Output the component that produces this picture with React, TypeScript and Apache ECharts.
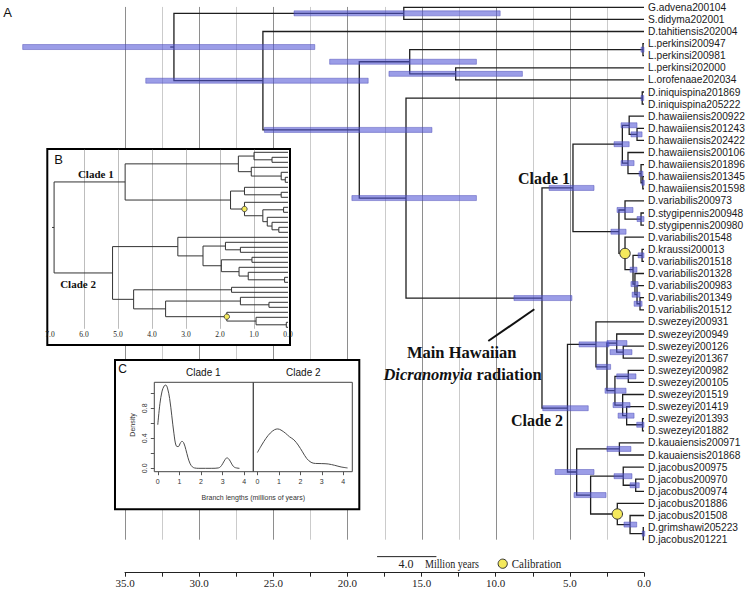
import React, { useEffect, useRef } from 'react';
import * as echarts from 'echarts';

// ---------- DATA ----------
const tipNames = [
  'G.advena200104', 'S.didyma202001', 'D.tahitiensis202004', 'L.perkinsi200947', 'L.perkinsi200981',
  'L.perkinsi202000', 'L.orofenaae202034', 'D.iniquispina201869', 'D.iniquispina205222',
  'D.hawaiiensis200922', 'D.hawaiiensis201243', 'D.hawaiiensis202422', 'D.hawaiiensis200106',
  'D.hawaiiensis201896', 'D.hawaiiensis201345', 'D.hawaiiensis201598', 'D.variabilis200973',
  'D.stygipennis200948', 'D.stygipennis200980', 'D.variabilis201548', 'D.kraussi200013',
  'D.variabilis201518', 'D.variabilis201328', 'D.variabilis200983', 'D.variabilis201349',
  'D.variabilis201512', 'D.swezeyi200931', 'D.swezeyi200949', 'D.swezeyi200126', 'D.swezeyi201367',
  'D.swezeyi200982', 'D.swezeyi200105', 'D.swezeyi201519', 'D.swezeyi201419', 'D.swezeyi201393',
  'D.swezeyi201882', 'D.kauaiensis200971', 'D.kauaiensis201868', 'D.jacobus200975', 'D.jacobus200970',
  'D.jacobus200974', 'D.jacobus201886', 'D.jacobus201508', 'D.grimshawi205223', 'D.jacobus201221',
];

const nodeNames = [
  'root', 'GS', 'N2', 'Q', 'P', 'LP1', 'LP2', 'I', 'INI', 'M', 'C1', 'H', 'Ha', 'Hb', 'Hc', 'Hd', 'He',
  'V', 'Va', 'Vs', 'Vb', 'Vc', 'Vk', 'Vd', 'Ve', 'Vf', 'C2', 'S', 'Sa', 'Sb', 'Sb2', 'Sc', 'Sd', 'Sf',
  'Sg', 'Sh', 'K', 'Ka', 'J', 'Ja', 'Jc', 'Jb', 'Jd', 'Je',
];

const nodeKids: string[][] = [
  ['GS', 'N2'],
  ['G.advena200104', 'S.didyma202001'],
  ['D.tahitiensis202004', 'Q'],
  ['P', 'I'],
  ['LP1', 'LP2'],
  ['L.perkinsi200947', 'L.perkinsi200981'],
  ['L.perkinsi202000', 'L.orofenaae202034'],
  ['INI', 'M'],
  ['D.iniquispina201869', 'D.iniquispina205222'],
  ['C1', 'C2'],
  ['H', 'V'],
  ['Ha', 'Hc'],
  ['D.hawaiiensis200922', 'Hb'],
  ['D.hawaiiensis201243', 'D.hawaiiensis202422'],
  ['D.hawaiiensis200106', 'Hd'],
  ['D.hawaiiensis201896', 'He'],
  ['D.hawaiiensis201345', 'D.hawaiiensis201598'],
  ['Va', 'Vb'],
  ['D.variabilis200973', 'Vs'],
  ['D.stygipennis200948', 'D.stygipennis200980'],
  ['D.variabilis201548', 'Vc'],
  ['Vk', 'Vd'],
  ['D.kraussi200013', 'D.variabilis201518'],
  ['D.variabilis201328', 'Ve'],
  ['D.variabilis200983', 'Vf'],
  ['D.variabilis201349', 'D.variabilis201512'],
  ['S', 'K'],
  ['D.swezeyi200931', 'Sa'],
  ['Sb', 'Sc'],
  ['D.swezeyi200949', 'Sb2'],
  ['D.swezeyi200126', 'D.swezeyi201367'],
  ['Sd', 'Sf'],
  ['D.swezeyi200982', 'D.swezeyi200105'],
  ['D.swezeyi201519', 'Sg'],
  ['D.swezeyi201419', 'Sh'],
  ['D.swezeyi201393', 'D.swezeyi201882'],
  ['Ka', 'J'],
  ['D.kauaiensis200971', 'D.kauaiensis201868'],
  ['Ja', 'Jb'],
  ['D.jacobus200975', 'Jc'],
  ['D.jacobus200970', 'D.jacobus200974'],
  ['D.jacobus201886', 'Jd'],
  ['D.jacobus201508', 'Je'],
  ['D.grimshawi205223', 'D.jacobus201221'],
];

// node ages (million years)
const nodeAges = [
  31.7, 16.2, 25.7, 19.2, 15.8, 0.07, 12.7, 16.05, 0.12, 6.88, 4.79, 1.46, 1.0, 0.47, 1.08, 0.2, 0.08,
  1.69, 1.28, 0.2, 1.28, 0.74, 0.13, 0.61, 0.47, 0.27, 5.16, 3.24, 2.5, 1.84, 1.4, 1.96, 1.06, 1.44,
  1.17, 0.1, 4.54, 1.66, 3.6, 1.4, 0.56, 1.8, 0.94, 0.05,
];
// 95% HPD intervals (older / younger bounds), NaN = calibrated node
const hpdOld = [
  41.9, 23.6, 33.6, 25.6, 21.2, 0.2, 17.2, 19.7, 0.2, 8.77, 6.4, 2.02, 1.55, 0.88, 1.55, 0.33, 0.15,
  2.23, 1.82, 0.47, NaN, 0.94, 0.4, 0.88, 0.8, 0.67, 6.83, 4.38, 3.19, 2.5, 2.29, 2.63, 1.84, 2.09,
  1.75, 0.49, 6.0, 2.5, 4.72, 2.02, 0.94, NaN, 1.35, 0.12,
];
const hpdYoung = [
  22.2, 9.7, 18.6, 14.3, 11.3, 0.0, 8.2, 11.3, 0.02, 4.86, 3.37, 1.0, 0.47, 0.13, 0.67, 0.07, 0.0,
  1.21, 0.74, 0.0, NaN, 0.47, 0.0, 0.4, 0.27, 0.13, 3.76, 2.36, 2.25, 1.15, 0.81, 1.21, 0.54, 0.94,
  0.67, 0.0, 3.37, 0.88, 2.56, 0.81, 0.32, NaN, 0.49, 0.0,
];
const calibratedNodes = ['Vb', 'Jb'];

const timeTicks = [2.5, 5, 7.5, 10, 12.5, 15, 17.5, 20, 22.5, 25, 27.5, 30, 32.5, 35];
const insetTicks = [1, 2, 3, 4, 5, 6];
const insetRoot = 'M';
const scaleBarAges = [18, 14];

// Density of branch lengths (inset C)
const densX1 = [0, 0.1, 0.2, 0.3, 0.37, 0.45, 0.55, 0.65, 0.75, 0.85, 0.95, 1.05, 1.12, 1.2, 1.3, 1.4, 1.5, 1.6, 1.7, 1.9, 2.2, 2.5, 2.8, 2.9, 3.0, 3.1, 3.2, 3.3, 3.4, 3.5, 3.6, 3.78];
const densY1 = [0.58, 0.86, 1.03, 1.10, 1.11, 1.07, 0.93, 0.70, 0.46, 0.30, 0.29, 0.34, 0.36, 0.34, 0.25, 0.14, 0.06, 0.02, 0.005, 0, 0, 0, 0.005, 0.02, 0.06, 0.11, 0.14, 0.12, 0.07, 0.025, 0.008, 0];
const densX2 = [0, 0.2, 0.4, 0.6, 0.8, 0.95, 1.1, 1.3, 1.5, 1.7, 1.9, 2.1, 2.3, 2.5, 2.7, 3.0, 3.3, 3.6, 3.9, 4.2];
const densY2 = [0.21, 0.31, 0.40, 0.47, 0.515, 0.525, 0.51, 0.47, 0.42, 0.38, 0.31, 0.22, 0.13, 0.08, 0.065, 0.063, 0.058, 0.04, 0.018, 0.005];
const densTicksX = [0, 1, 2, 3, 4];
const densTicksY = [0, 0.2, 0.4, 0.6, 0.8, 1.0];
const densLabelsY = [0, 0.4, 0.8];

// ---------- TREE HELPERS ----------
const nodeIndex = new Map<string, number>(nodeNames.map((n, i) => [n, i]));
const tipIndex = new Map<string, number>(tipNames.map((n, i) => [n, i]));

function rowOf(n: string): number {
  if (tipIndex.has(n)) return tipIndex.get(n) as number;
  const k = nodeKids[nodeIndex.get(n) as number];
  return (rowOf(k[0]) + rowOf(k[1])) / 2;
}
function ageOf(n: string): number {
  return tipIndex.has(n) ? 0 : nodeAges[nodeIndex.get(n) as number];
}
function subtreeNodes(root: string): string[] {
  const out: string[] = [];
  const walk = (n: string) => {
    if (tipIndex.has(n)) return;
    out.push(n);
    nodeKids[nodeIndex.get(n) as number].forEach(walk);
  };
  walk(root);
  return out;
}
function subtreeMinTip(root: string): number {
  let m = Infinity;
  const walk = (n: string) => {
    if (tipIndex.has(n)) { m = Math.min(m, tipIndex.get(n) as number); return; }
    nodeKids[nodeIndex.get(n) as number].forEach(walk);
  };
  walk(root);
  return m;
}
function brackets(root: string, shift: number) {
  return subtreeNodes(root).map((n) => {
    const [a, b] = nodeKids[nodeIndex.get(n) as number];
    return [ageOf(n), rowOf(a) - shift, ageOf(a), rowOf(b) - shift, ageOf(b)];
  });
}

const SANS = 'Liberation Sans, Arial, sans-serif';
const SERIF = 'Liberation Serif, Times New Roman, serif';

function bracketRender(color: string, width: number) {
  return (_p: any, api: any) => {
    const a = api.value(0), y1 = api.value(1), c1 = api.value(2), y2 = api.value(3), c2 = api.value(4);
    const pts = [api.coord([c1, y1]), api.coord([a, y1]), api.coord([a, y2]), api.coord([c2, y2])];
    return { type: 'polyline', shape: { points: pts }, style: { stroke: color, lineWidth: width, fill: 'none' } };
  };
}

const centered = { align: 'center', verticalAlign: 'middle', textAlign: 'center', textVerticalAlign: 'middle' };
const lefted = { align: 'left', verticalAlign: 'middle', textAlign: 'left', textVerticalAlign: 'middle' };

function buildOption() {
  const mainBrackets = brackets('root', 0);
  const rootRow = rowOf('root');
  const rootAge = ageOf('root');
  const bars = nodeNames
    .map((n, i) => [hpdOld[i], hpdYoung[i], rowOf(n)])
    .filter((d) => isFinite(d[0]));
  const circles = calibratedNodes.map((n) => [ageOf(n), rowOf(n)]);

  const shift = subtreeMinTip(insetRoot);
  const insetBrackets = brackets(insetRoot, shift);
  const insetCircles = calibratedNodes.map((n) => [ageOf(n), rowOf(n) - shift]);
  const insetRootRow = rowOf(insetRoot) - shift;
  const insetRootAge = ageOf(insetRoot);

  const series: any[] = [
    // main vertical time grid
    {
      type: 'custom', xAxisIndex: 0, yAxisIndex: 0, z: 1, silent: true,
      data: timeTicks.map((v) => [v, 0]),
      renderItem: (_p: any, api: any) => {
        const v = api.value(0);
        const a = api.coord([v, -0.03]);
        const b = api.coord([v, 44]);
        const x = Math.round(a[0]) + 0.5;
        return { type: 'line', shape: { x1: x, y1: a[1], x2: x, y2: b[1] }, style: { stroke: v % 5 === 0 ? '#8e8e8e' : '#cbcbcb', lineWidth: 1 } };
      },
    },
    // main tree branches
    {
      type: 'custom', xAxisIndex: 0, yAxisIndex: 0, z: 2, silent: true,
      data: mainBrackets, renderItem: bracketRender('#1e1e1e', 1.3),
    },
    // root stem
    {
      type: 'custom', xAxisIndex: 0, yAxisIndex: 0, z: 2, silent: true,
      data: [[rootAge + 0.25, rootRow, rootAge]],
      renderItem: (_p: any, api: any) => {
        const a = api.coord([api.value(0), api.value(1)]);
        const b = api.coord([api.value(2), api.value(1)]);
        return { type: 'line', shape: { x1: a[0], y1: a[1], x2: b[0], y2: b[1] }, style: { stroke: '#1e1e1e', lineWidth: 1.3 } };
      },
    },
    // HPD bars
    {
      type: 'custom', xAxisIndex: 0, yAxisIndex: 0, z: 3, silent: true,
      data: bars,
      renderItem: (_p: any, api: any) => {
        const a = api.coord([api.value(0), api.value(2)]);
        const b = api.coord([api.value(1), api.value(2)]);
        return {
          type: 'rect',
          shape: { x: a[0], y: a[1] - 2.5, width: Math.max(b[0] - a[0], 2.5), height: 5 },
          style: { fill: 'rgba(82,86,214,0.58)', stroke: 'rgba(70,70,180,0.75)', lineWidth: 0.6 },
        };
      },
    },
    // calibration circles
    {
      type: 'custom', xAxisIndex: 0, yAxisIndex: 0, z: 4, silent: true,
      data: circles,
      renderItem: (_p: any, api: any) => {
        const c = api.coord([api.value(0), api.value(1)]);
        return { type: 'circle', shape: { cx: c[0], cy: c[1], r: 5.2 }, style: { fill: '#f4e95c', stroke: '#333', lineWidth: 1 } };
      },
    },
    // tip labels
    {
      type: 'custom', xAxisIndex: 0, yAxisIndex: 0, z: 4, silent: true,
      data: tipNames.map((_n, i) => [0, i]),
      renderItem: (p: any, api: any) => {
        const c = api.coord([api.value(0), api.value(1)]);
        return {
          type: 'text', x: c[0] + 4, y: c[1],
          style: { text: tipNames[p.dataIndex], fontFamily: SANS, fontSize: 10.2, fill: '#1a1a1a', ...lefted },
        };
      },
    },
    // scale bar
    {
      type: 'custom', xAxisIndex: 0, yAxisIndex: 0, z: 4, silent: true,
      data: [[scaleBarAges[0], 45.4, scaleBarAges[1]]],
      renderItem: (_p: any, api: any) => {
        const a = api.coord([api.value(0), api.value(1)]);
        const b = api.coord([api.value(2), api.value(1)]);
        return { type: 'line', shape: { x1: a[0], y1: a[1], x2: b[0], y2: b[1] }, style: { stroke: '#222', lineWidth: 1 } };
      },
    },
    // ---- inset B ----
    {
      type: 'custom', xAxisIndex: 1, yAxisIndex: 1, z: 11, silent: true,
      data: insetTicks.map((v) => [v, 0]),
      renderItem: (_p: any, api: any) => {
        const v = api.value(0);
        const a = api.coord([v, -0.5]);
        const b = api.coord([v, 35.3]);
        const x = Math.round(a[0]) + 0.5;
        return { type: 'line', shape: { x1: x, y1: a[1], x2: x, y2: b[1] }, style: { stroke: '#bdbdbd', lineWidth: 1 } };
      },
    },
    {
      type: 'custom', xAxisIndex: 1, yAxisIndex: 1, z: 12, silent: true,
      data: insetBrackets, renderItem: bracketRender('#333', 1),
    },
    {
      type: 'custom', xAxisIndex: 1, yAxisIndex: 1, z: 12, silent: true,
      data: [[insetRootAge + 0.06, insetRootRow, insetRootAge]],
      renderItem: (_p: any, api: any) => {
        const a = api.coord([api.value(0), api.value(1)]);
        const b = api.coord([api.value(2), api.value(1)]);
        return { type: 'line', shape: { x1: a[0], y1: a[1], x2: b[0], y2: b[1] }, style: { stroke: '#333', lineWidth: 1 } };
      },
    },
    {
      type: 'custom', xAxisIndex: 1, yAxisIndex: 1, z: 13, silent: true,
      data: insetCircles,
      renderItem: (_p: any, api: any) => {
        const c = api.coord([api.value(0), api.value(1)]);
        return { type: 'circle', shape: { cx: c[0], cy: c[1], r: 2.7 }, style: { fill: '#f4e95c', stroke: '#333', lineWidth: 0.8 } };
      },
    },
    // ---- inset C ----
    {
      type: 'line', xAxisIndex: 2, yAxisIndex: 2, z: 12, silent: true, showSymbol: false, smooth: 0.35,
      data: densX1.map((x, i) => [x, densY1[i]]),
      lineStyle: { color: '#4a4a4a', width: 1 },
    },
    {
      type: 'line', xAxisIndex: 3, yAxisIndex: 3, z: 12, silent: true, showSymbol: false, smooth: 0.35,
      data: densX2.map((x, i) => [x, densY2[i]]),
      lineStyle: { color: '#4a4a4a', width: 1 },
    },
  ];

  const cAxisX = (min: number) => ({
    type: 'value', min, max: 4.42, z: 11,
    axisLine: { show: false, onZero: false },
    axisTick: { show: true, customValues: densTicksX, length: 3.5, lineStyle: { color: '#555' } },
    axisLabel: { customValues: densTicksX, fontFamily: SANS, fontSize: 7, color: '#333', margin: 6 },
    splitLine: { show: false },
  });

  return {
    animation: false,
    backgroundColor: '#ffffff',
    grid: [
      { left: 125, top: 7.3, width: 519, height: 532.4, outerBoundsMode: 'none', containLabel: false },
      { left: 50, top: 149, width: 238, height: 180, outerBoundsMode: 'none', containLabel: false },
      { left: 154.3, top: 382.3, width: 99, height: 89.4, show: true, borderColor: '#444', borderWidth: 1, backgroundColor: 'transparent', z: 11, outerBoundsMode: 'none', containLabel: false },
      { left: 253.3, top: 382.3, width: 99, height: 89.4, show: true, borderColor: '#444', borderWidth: 1, backgroundColor: 'transparent', z: 11, outerBoundsMode: 'none', containLabel: false },
    ],
    xAxis: [
      {
        gridIndex: 0, type: 'value', inverse: true, min: 0, max: 35, interval: 2.5, offset: 33, position: 'bottom',
        axisLine: { show: true, onZero: false, lineStyle: { color: '#222', width: 1 } },
        axisTick: { show: true, length: 4, lineStyle: { color: '#222' } },
        axisLabel: {
          fontFamily: SERIF, fontSize: 11, color: '#222', margin: 5,
          formatter: (v: number) => (Math.abs(v % 5) < 1e-9 ? v.toFixed(1) : ''),
        },
        splitLine: { show: false },
      },
      {
        gridIndex: 1, type: 'value', inverse: true, min: 0, max: 7, interval: 1, z: 11,
        axisLine: { show: false, onZero: false }, axisTick: { show: false }, splitLine: { show: false },
        axisLabel: { fontFamily: SERIF, fontSize: 7.5, color: '#222', margin: 1, formatter: (v: number) => v.toFixed(1) },
      },
      { gridIndex: 2, ...cAxisX(-0.16) },
      { gridIndex: 3, ...cAxisX(-0.19) },
    ],
    yAxis: [
      { gridIndex: 0, type: 'value', inverse: true, min: 0, max: 44, show: false },
      { gridIndex: 1, type: 'value', inverse: true, min: -0.66, max: 35.34, show: false },
      {
        gridIndex: 2, type: 'value', min: -0.045, max: 1.147, z: 11,
        axisLine: { show: false, onZero: false },
        axisTick: { show: true, customValues: densTicksY, length: 3.5, lineStyle: { color: '#555' } },
        axisLabel: { customValues: densLabelsY, rotate: 90, fontFamily: SANS, fontSize: 7, color: '#333', margin: 6, formatter: (v: number) => v.toFixed(1) },
        splitLine: { show: false },
      },
      { gridIndex: 3, type: 'value', min: -0.045, max: 1.147, show: false },
    ],
    series,
    graphic: {
      elements: [
        { type: 'text', x: 7.5, y: 12.5, z: 20, style: { text: 'A', fontFamily: SANS, fontSize: 13, fill: '#111', ...centered } },
        // inset B frame and labels
        { type: 'rect', z: 10, shape: { x: 47.3, y: 149, width: 242.7, height: 196 }, style: { fill: '#fff', stroke: '#000', lineWidth: 2 } },
        { type: 'text', x: 58.5, y: 159.5, z: 20, style: { text: 'B', fontFamily: SANS, fontSize: 13, fill: '#111', ...centered } },
        { type: 'text', x: 95.8, y: 174.3, z: 20, style: { text: 'Clade 1', fontFamily: SERIF, fontWeight: 'bold', fontSize: 11, fill: '#111', ...centered } },
        { type: 'text', x: 78, y: 284.3, z: 20, style: { text: 'Clade 2', fontFamily: SERIF, fontWeight: 'bold', fontSize: 11, fill: '#111', ...centered } },
        // inset C frame and labels
        { type: 'rect', z: 10, shape: { x: 115, y: 360, width: 244.3, height: 149.3 }, style: { fill: '#fff', stroke: '#000', lineWidth: 2 } },
        { type: 'text', x: 122.5, y: 369, z: 20, style: { text: 'C', fontFamily: SANS, fontSize: 12, fill: '#111', ...centered } },
        { type: 'text', x: 203.3, y: 372.7, z: 20, style: { text: 'Clade 1', fontFamily: SANS, fontSize: 10, fill: '#111', ...centered } },
        { type: 'text', x: 303.3, y: 372.7, z: 20, style: { text: 'Clade 2', fontFamily: SANS, fontSize: 10, fill: '#111', ...centered } },
        { type: 'text', x: 132, y: 425, z: 20, rotation: Math.PI / 2, style: { text: 'Density', fontFamily: SANS, fontSize: 7, fill: '#333', ...centered } },
        { type: 'text', x: 253.3, y: 497.3, z: 20, style: { text: 'Branch lengths (millions of years)', fontFamily: SANS, fontSize: 7, fill: '#333', ...centered } },
        // main annotations
        { type: 'text', x: 544, y: 178.3, z: 20, style: { text: 'Clade 1', fontFamily: SERIF, fontWeight: 'bold', fontSize: 16, fill: '#111', ...centered } },
        { type: 'text', x: 537, y: 420.7, z: 20, style: { text: 'Clade 2', fontFamily: SERIF, fontWeight: 'bold', fontSize: 16, fill: '#111', ...centered } },
        { type: 'text', x: 461.7, y: 352.7, z: 20, style: { text: 'Main Hawaiian', fontFamily: SERIF, fontWeight: 'bold', fontSize: 16.5, fill: '#111', ...centered } },
        {
          type: 'text', x: 462.5, y: 374, z: 20,
          style: {
            text: '{i|Dicranomyia} radiation', fontFamily: SERIF, fontWeight: 'bold', fontSize: 16.5, fill: '#111',
            ...centered,
            rich: { i: { fontFamily: SERIF, fontWeight: 'bold', fontStyle: 'italic', fontSize: 16.5, fill: '#111', color: '#111' } },
          },
        },
        { type: 'line', z: 20, shape: { x1: 488.3, y1: 341, x2: 534.3, y2: 309.3 }, style: { stroke: '#111', lineWidth: 2 } },
        // legend
        { type: 'text', x: 406, y: 564, z: 20, style: { text: '4.0', fontFamily: SERIF, fontSize: 12, fill: '#222', ...centered } },
        { type: 'text', x: 425, y: 564, z: 20, scaleX: 0.84, style: { text: 'Million years', fontFamily: SERIF, fontSize: 12, fill: '#222', ...lefted } },
        { type: 'circle', z: 20, shape: { cx: 502.7, cy: 563.7, r: 4.6 }, style: { fill: '#f4e95c', stroke: '#333', lineWidth: 1 } },
        { type: 'text', x: 511.7, y: 564, z: 20, scaleX: 0.92, style: { text: 'Calibration', fontFamily: SERIF, fontSize: 12, fill: '#222', ...lefted } },
      ],
    },
  };
}

export default function App() {
  const ref = useRef<HTMLDivElement>(null);
  useEffect(() => {
    if (!ref.current) return;
    const chart = echarts.init(ref.current, null, { renderer: 'svg' });
    chart.setOption(buildOption() as any);
    return () => chart.dispose();
  }, []);
  return <div ref={ref} style={{ position: 'absolute', left: 0, top: 0, width: 747, height: 591 }} />;
}
